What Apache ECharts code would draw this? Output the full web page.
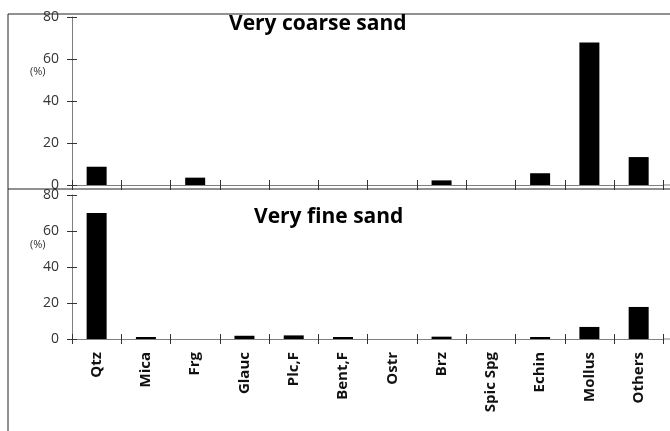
<!DOCTYPE html>
<html><head><meta charset="utf-8">
<script src="https://cdn.jsdelivr.net/npm/echarts@6/dist/echarts.min.js"></script>
<style>html,body{margin:0;padding:0;background:#fff}#c{width:670px;height:431px}</style>
</head><body><div id="c"></div>
<script>
var categories = ['Qtz','Mica','Frg','Glauc','Plc,F','Bent,F','Ostr','Brz','Spic Spg','Echin','Mollus','Others'];
var coarseValues = [8.7, 0, 3.5, 0, 0, 0, 0, 2.2, 0, 5.6, 67.8, 13.3];
var fineValues = [70, 1.1, 0, 1.8, 2.0, 1.1, 0, 1.3, 0, 1.1, 6.7, 17.8];
var yTicks = [0, 20, 40, 60, 80];
var titles = ['Very coarse sand', 'Very fine sand'];

var axisColor = '#7f7f7f';
var lblFont = 'Open Sans';
function yAx(grid, main) {
  return {
    type: 'value', gridIndex: grid, position: 'left', min: yTicks[0], max: yTicks[yTicks.length-1], interval: yTicks[1]-yTicks[0],
    splitLine: {show: false},
    axisLine: {show: main, onZero: false, lineStyle: {color: axisColor, width: 1}},
    axisTick: {show: true, inside: !main, length: 5, lineStyle: {color: '#333'}},
    axisLabel: {show: main, color: '#333', fontFamily: lblFont, fontSize: 14, margin: 13}
  };
}
function xAx(grid, main, labels) {
  return {
    type: 'category', gridIndex: grid, position: 'bottom', data: categories, boundaryGap: true,
    axisLine: {show: main, onZero: false, lineStyle: {color: axisColor, width: 1}},
    axisTick: {show: true, inside: !main, length: 5, alignWithLabel: false, lineStyle: {color: '#333'}},
    axisLabel: {show: main && labels, rotate: 90, interval: 0, color: '#111', fontFamily: lblFont, fontWeight: 'bold', fontSize: 15, margin: 13}
  };
}
var chart = echarts.init(document.getElementById('c'));
chart.setOption({
  animation: false,
  grid: [
    {left: 72, top: 17, width: 591.3, height: 168},
    {left: 72, top: 195, width: 591.3, height: 144}
  ],
  xAxis: [xAx(0, true, false), xAx(1, true, true), xAx(0, false, false), xAx(1, false, false)],
  yAxis: [yAx(0, true), yAx(1, true), yAx(0, false), yAx(1, false)],
  series: [
    {type: 'bar', xAxisIndex: 0, yAxisIndex: 0, data: coarseValues, barWidth: 20, itemStyle: {color: '#000'}},
    {type: 'bar', xAxisIndex: 1, yAxisIndex: 1, data: fineValues, barWidth: 20, itemStyle: {color: '#000'}}
  ],
  graphic: [
    {type: 'line', shape: {x1: 8, y1: 14, x2: 670, y2: 14}, style: {stroke: '#222', lineWidth: 1}},
    {type: 'line', shape: {x1: 8, y1: 14, x2: 8, y2: 431}, style: {stroke: '#222', lineWidth: 1}},
    {type: 'line', shape: {x1: 8, y1: 189, x2: 670, y2: 189}, style: {stroke: '#222', lineWidth: 1}},
    {type: 'line', shape: {x1: 663, y1: 185, x2: 670, y2: 185}, style: {stroke: axisColor, lineWidth: 1}},
    {type: 'line', shape: {x1: 663, y1: 339, x2: 670, y2: 339}, style: {stroke: axisColor, lineWidth: 1}},
    {type: 'text', left: 229, top: 14, style: {text: titles[0], font: 'bold 21px "Open Sans"', fill: '#000'}},
    {type: 'text', left: 254, top: 207, style: {text: titles[1], font: 'bold 21px "Open Sans"', fill: '#000'}},
    {type: 'text', left: 30, top: 66, style: {text: '(%)', font: '11px "Open Sans"', fill: '#333'}},
    {type: 'text', left: 30, top: 239, style: {text: '(%)', font: '11px "Open Sans"', fill: '#333'}}
  ]
});
</script></body></html>
